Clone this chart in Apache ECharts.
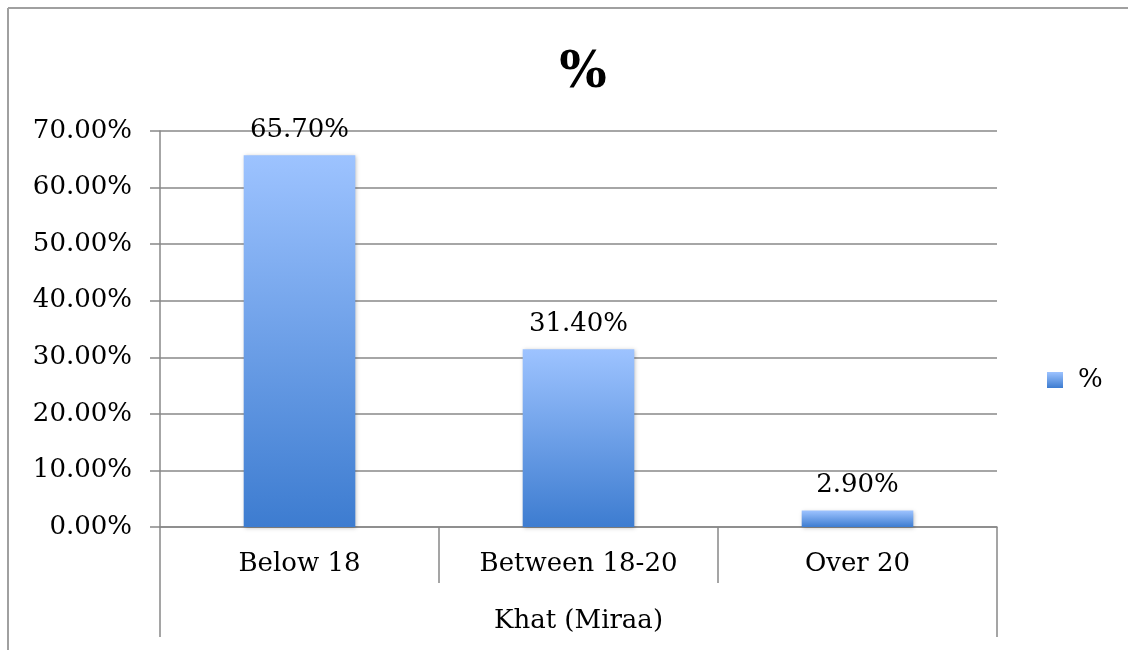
<!DOCTYPE html>
<html>
<head>
<meta charset="utf-8">
<script src="https://cdn.jsdelivr.net/npm/echarts@6/dist/echarts.min.js"></script>
<style>
  html, body { margin: 0; padding: 0; background: #fff; }
  #chart { width: 1128px; height: 650px; }
</style>
</head>
<body>
<div id="chart"></div>
<script>
// values
var categories = ['Below 18', 'Between 18-20', 'Over 20'];
var groupLabel = ['Khat (Miraa)'];
var values = [65.7, 31.4, 2.9];
var seriesName = '%';

var font = 'DejaVu Serif';
var chart = echarts.init(document.getElementById('chart'));

var barGradient = new echarts.graphic.LinearGradient(0, 0, 0, 1, [
    { offset: 0, color: '#9dc3ff' },
    { offset: 1, color: '#3d7cd0' }
]);

chart.setOption({
    animation: false,
    title: {
        text: '%',
        top: 44,
        left: 578,
        textAlign: 'center',
        textStyle: { fontFamily: font, fontSize: 50, fontWeight: 'bold', color: '#000' }
    },
    legend: {
        data: [seriesName],
        left: 1042,
        top: 362,
        icon: 'rect',
        itemWidth: 16,
        itemHeight: 16,
        textStyle: { fontFamily: font, fontSize: 26, color: '#000', padding: [0, 0, 0, 10] }
    },
    graphic: [
        { type: 'line', shape: { x1: 8, y1: 8, x2: 1128, y2: 8 }, style: { stroke: '#a0a0a0', lineWidth: 2 } },
        { type: 'line', shape: { x1: 8, y1: 8, x2: 8, y2: 650 }, style: { stroke: '#a0a0a0', lineWidth: 2 } }
    ],
    grid: { left: 160, right: 131, top: 131, bottom: 123 },
    xAxis: [{
        type: 'category',
        data: categories,
        axisLine: { lineStyle: { color: '#888', width: 1.5 } },
        axisTick: { show: true, length: 56, lineStyle: { color: '#888', width: 1.5 } },
        axisLabel: { margin: 24, fontFamily: font, fontSize: 26, color: '#000' }
    }, {
        type: 'category',
        position: 'bottom',
        data: groupLabel,
        axisLine: { show: false },
        axisTick: { show: true, length: 110, lineStyle: { color: '#888', width: 1.5 } },
        axisLabel: { margin: 81, fontFamily: font, fontSize: 26, color: '#000' }
    }],
    yAxis: {
        type: 'value',
        min: 0,
        max: 70,
        interval: 10,
        axisLine: { show: true, lineStyle: { color: '#888', width: 1.5 } },
        axisTick: { show: true, length: 10, lineStyle: { color: '#888', width: 1.5 } },
        splitLine: { lineStyle: { color: '#888', width: 1.5 } },
        axisLabel: {
            margin: 28,
            fontFamily: font,
            fontSize: 26,
            color: '#000',
            formatter: function (v) { return v.toFixed(2) + '%'; }
        }
    },
    series: [{
        name: seriesName,
        type: 'bar',
        data: values,
        barWidth: '40%',
        itemStyle: {
            color: barGradient,
            shadowColor: 'rgba(0,0,0,0.25)',
            shadowBlur: 4,
            shadowOffsetX: 1,
            shadowOffsetY: 1
        },
        label: {
            show: true,
            position: 'top',
            distance: 12,
            fontFamily: font,
            fontSize: 26,
            color: '#000',
            formatter: function (p) { return p.value.toFixed(2) + '%'; }
        }
    }]
});
</script>
</body>
</html>
